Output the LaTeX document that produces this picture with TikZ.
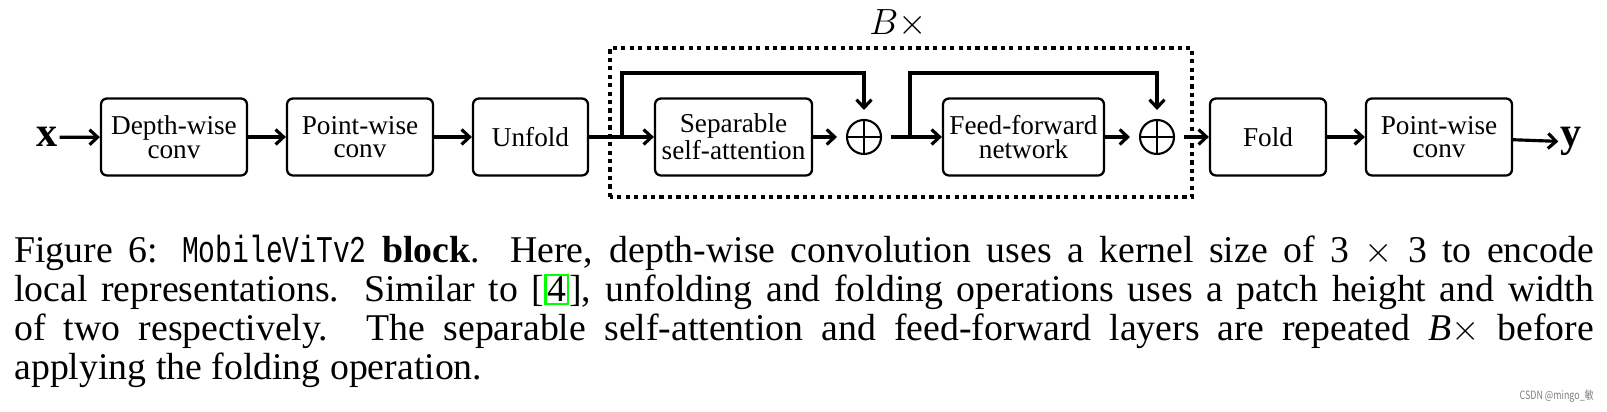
\documentclass[tikz,border=0pt]{standalone}
\usepackage{fontspec}
\setmainfont{Liberation Serif}
\setmonofont[FakeStretch=0.74]{Liberation Mono}
\newfontfamily\cjk[FakeStretch=0.78]{Noto Sans CJK SC}
\usetikzlibrary{arrows.meta}
\definecolor{citegreen}{RGB}{0,255,0}

\tikzset{
    block/.style={draw, rounded corners=0.12cm, line width=1.3pt, minimum height=1.54cm,
        align=center, inner sep=0pt, font=\fontsize{15.5}{13.5}\selectfont},
    conn/.style={line width=1.8pt, -{Straight Barb[length=1.6mm, width=3mm]}},
    addop/.style={circle, draw, line width=1.2pt, minimum size=0.68cm, inner sep=0pt, outer sep=0.2cm,
        path picture={\draw[line width=1.2pt] (path picture bounding box.north) -- (path picture bounding box.south)
            (path picture bounding box.west) -- (path picture bounding box.east);}},
    repbox/.style={line width=2pt, dash pattern=on 2.4pt off 2.4pt},
    ioname/.style={inner sep=1pt, font=\fontsize{24}{28}\selectfont},
    capline/.style={anchor=base west, inner sep=0pt, font=\fontsize{21.5}{23}\selectfont}
}

\begin{document}
\begin{tikzpicture}[x=0.02cm, y=0.02cm]
    \useasboundingbox (0,0) rectangle (1607,412);

    % Blocks of the chain
    \foreach \nm/\cx/\bw/\txt in {dw/174/2.92/{Depth-wise\\conv}, pw1/360/2.92/{Point-wise\\conv},
        unf/530.5/2.3/Unfold, ssa/733.5/3.14/{Separable\\self-attention},
        ffn/1023.5/3.22/{Feed-forward\\network}, fold/1268/2.32/Fold, pw2/1439/2.92/{Point-wise\\conv}} {
        \node[block, minimum width=\bw cm] (\nm) at (\cx,275) {\txt};
    }

    % Residual additions
    \node[addop] (add1) at (864,275) {};
    \node[addop] (add2) at (1157,275) {};

    % Input and output
    \node[ioname, anchor=base] (xin) at (47,265) {$\mathbf{x}$};
    \node[ioname, anchor=base] (yout) at (1571,265) {$\mathbf{y}$};

    % Repeated part
    \draw[repbox] (610,215) rectangle (1192,364);
    \node[font=\fontsize{22}{26}\selectfont] (rep) at (898,388) {$B\times$};

    % Connections
    \draw[conn] (xin) -- (dw);
    \draw[conn] (dw) -- (pw1);
    \draw[conn] (pw1) -- (unf);
    \draw[conn] (unf) -- (ssa);
    \draw[conn] (ssa) -- (add1);
    \draw[conn] (add1) -- (ffn);
    \draw[conn] (ffn) -- (add2);
    \draw[conn] (add2) -- (fold);
    \draw[conn] (fold) -- (pw2);
    \draw[conn] (pw2) -- (yout);

    % Skip connections
    \coordinate (br1) at (622,275);
    \coordinate (br2) at (910,275);
    \draw[conn] (br1) -- ++(0,64) -| (add1);
    \draw[conn] (br2) -- ++(0,64) -| (add2);

    % Caption
    \node[capline] (cap1) at (14,149) {\makebox[31.6cm][s]{Figure 6: \texttt{MobileViTv2} \textbf{block}. Here, depth-wise convolution uses a kernel size of 3 $\times$ 3 to encode}};
    \node[capline] (cap2) at (14,110) {\makebox[31.6cm][s]{local representations. Similar to [{\setlength{\fboxsep}{0.5pt}\setlength{\fboxrule}{1.2pt}\fcolorbox{citegreen}{white}{4}}], unfolding and folding operations uses a patch height and width}};
    \node[capline] (cap3) at (14,71) {\makebox[31.6cm][s]{of two respectively. The separable self-attention and feed-forward layers are repeated \textit{B}$\times$ before}};
    \node[capline] (cap4) at (14,32) {applying the folding operation.};

    % Watermark
    \node[anchor=base east, inner sep=0pt, text=gray, font=\cjk\fontsize{6.5}{8}\selectfont] (mark) at (1594,12) {CSDN @mingo\_敏};
\end{tikzpicture}
\end{document}
